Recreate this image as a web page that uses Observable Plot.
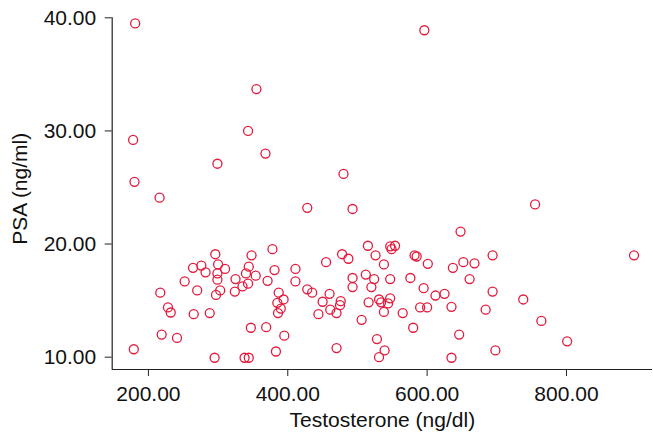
<!DOCTYPE html>
<html><head><meta charset="utf-8">
<script src="https://cdn.jsdelivr.net/npm/d3@7"></script>
<script src="https://cdn.jsdelivr.net/npm/@observablehq/plot@0.6"></script>
<style>body{margin:0;background:#fff}</style>
</head><body><div id="chart"></div>
<script>
const testosterone = [181,178,180,179,216,355,343,368,299,480,596,755,428,493,
  648,652,668,694,897,661,694,738,684,764,801,698,646,
  515,547,554,549,478,487,526,582,585,455,538,601,637,512,524,493,493,547,576,520,595,428,435,460,612,625,450,476,475,516,531,534,544,547,461,470,444,538,565,590,600,635,506,580,528,470,539,531,635,
  217,228,232,219,241,252,264,276,282,270,265,288,296,300,299,299,310,303,297,295,348,378,344,340,354,343,325,335,324,381,371,411,411,387,394,385,390,386,347,369,395,383,338,344];
const psa = [39.5,29.2,25.5,10.7,24.1,33.7,30.0,28.0,27.1,26.2,38.9,23.5,23.2,23.1,
  21.1,18.4,18.3,19.0,19.0,16.9,15.8,15.1,14.2,13.2,11.4,10.6,12.0,
  19.85,19.8,19.85,19.55,19.1,18.7,19.0,19.0,18.9,18.4,18.2,18.25,17.9,17.3,16.9,17.0,16.2,16.9,17.0,16.2,16.1,16.0,15.7,15.6,15.45,15.6,14.9,14.95,14.6,14.85,15.1,14.85,14.75,15.2,14.2,13.9,13.8,14.0,13.9,14.4,14.4,14.45,13.3,12.6,11.6,10.8,10.6,10.0,9.95,
  15.7,14.4,13.95,12.0,11.7,16.7,17.9,18.1,17.5,15.9,13.8,13.9,19.1,18.2,17.4,16.85,17.8,15.9,15.5,9.95,19.0,19.55,18.0,17.4,17.2,16.5,16.9,16.25,15.8,17.7,16.75,17.8,16.7,15.7,15.1,14.8,14.3,13.9,12.6,12.65,11.9,10.5,9.95,9.95];
const xTicks = [200, 400, 600, 800];
const yTicks = [10, 20, 30, 40];
const xDomain = [148, 923.5];
const yDomain = [8.91, 40];
const xLabel = "Testosterone (ng/dl)";
const yLabel = "PSA (ng/ml)";

const data = testosterone.map((t, i) => ({t, p: psa[i]}));
const fmt = d3.format(".2f");
const font = "Arial, 'Liberation Sans', sans-serif";

const chart = Plot.plot({
  width: 653, height: 441,
  marginLeft: 111.7, marginRight: 1, marginTop: 17.3, marginBottom: 72,
  style: {fontFamily: font, background: "#fff", color: "#111"},
  x: {domain: xDomain},
  y: {domain: yDomain},
  marks: [
    Plot.ruleY([yDomain[0]], {stroke: "#222", strokeWidth: 1.2}),
    Plot.ruleX([xDomain[0]], {stroke: "#222", strokeWidth: 1.2}),
    Plot.axisX(xTicks, {tickFormat: fmt, tickSize: 7, tickPadding: 10, fontSize: 21, label: null, stroke: "#222"}),
    Plot.axisY(yTicks, {tickFormat: fmt, tickSize: 7, tickPadding: 9, fontSize: 21, label: null, stroke: "#222"}),
    Plot.dot(data, {x: "t", y: "p", r: 4.5, stroke: "#e31a3c", strokeWidth: 1.3}),
    Plot.text([xLabel], {frameAnchor: "bottom", dy: 57.6, fontSize: 21, fill: "#111"}),
    Plot.text([yLabel], {frameAnchor: "left", rotate: -90, dx: -91.7, dy: -4.85, fontSize: 21, textAnchor: "middle", fill: "#111"})
  ]
});
document.getElementById("chart").appendChild(chart);
</script>
</body></html>
